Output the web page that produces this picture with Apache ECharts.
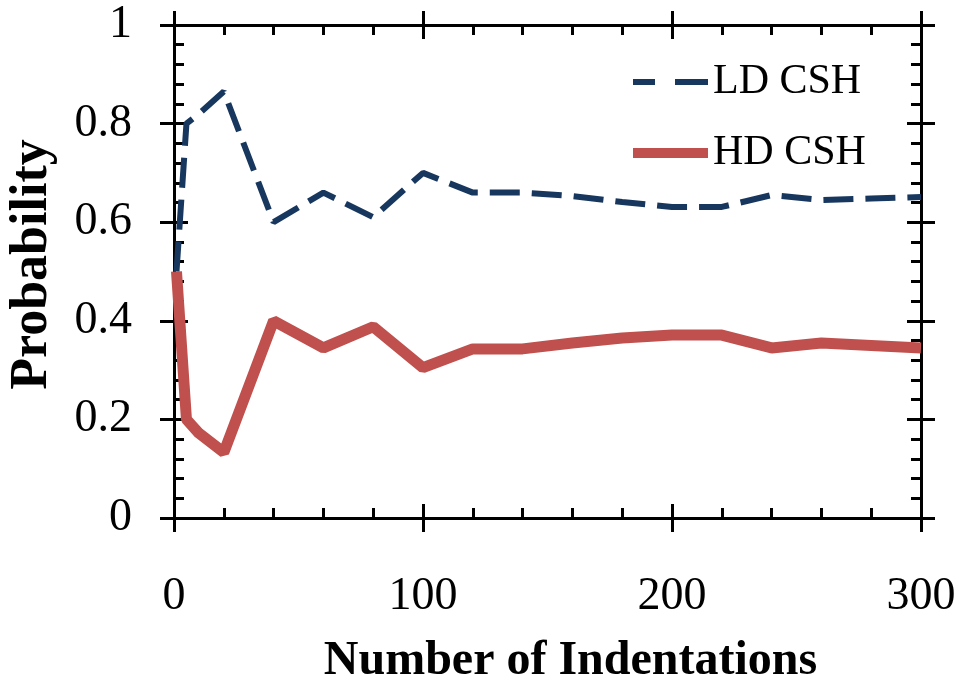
<!DOCTYPE html>
<html><head><meta charset="utf-8">
<script src="https://cdn.jsdelivr.net/npm/echarts@6/dist/echarts.min.js"></script>
<style>html,body{margin:0;padding:0;background:#fff}#c{width:964px;height:684px}</style>
</head><body><div id="c"></div>
<script>
const indentations = [1, 5, 10, 20, 40, 60, 80, 100, 120, 140, 160, 180, 200, 220, 240, 260, 280, 300];
const ldCSH = [0.50, 0.80, 0.82, 0.865, 0.60, 0.66, 0.61, 0.70, 0.66, 0.66, 0.653, 0.641, 0.631, 0.631, 0.655, 0.645, 0.648, 0.651];
const hdCSH = [0.50, 0.20, 0.172, 0.133, 0.40, 0.345, 0.388, 0.305, 0.343, 0.343, 0.355, 0.365, 0.371, 0.371, 0.345, 0.355, 0.35, 0.345];
const seriesNames = ['LD CSH', 'HD CSH'];
const xTitle = 'Number of Indentations';
const yTitle = 'Probability';

const FONT = 'Liberation Serif';
const BLACK = '#000';
const LD_COLOR = '#17375E';
const HD_COLOR = '#C0504D';

function axisBase(min, max, interval, pos, opts) {
  return Object.assign({
    type: 'value', min: min, max: max, interval: interval, position: pos,
    splitLine: { show: false },
    axisLine: { show: true, onZero: false, lineStyle: { color: BLACK, width: 3 } },
    axisTick: { show: true, inside: false, length: 14, lineStyle: { color: BLACK, width: 3 } },
    minorTick: { show: false },
    axisLabel: { show: false }
  }, opts || {});
}
function innerAxis(min, max, interval, pos) {
  return axisBase(min, max, interval, pos, {
    axisTick: { show: true, inside: true, length: 14, lineStyle: { color: BLACK, width: 3 } },
    minorTick: { show: true, splitNumber: 5, length: 10, lineStyle: { color: BLACK, width: 3 } }
  });
}

const chart = echarts.init(document.getElementById('c'), null, { renderer: 'canvas' });
chart.setOption({
  animation: false,
  backgroundColor: '#fff',
  grid: { left: 174, right: 43, top: 25, bottom: 166, containLabel: false, outerBoundsMode: 'none' },
  legend: {
    orient: 'vertical', left: 633, top: 57, padding: 0,
    itemWidth: 75, itemHeight: 14, itemGap: 21, symbolKeepAspect: true,
    textStyle: { fontFamily: FONT, fontSize: 42, color: BLACK, lineHeight: 50 },
    data: [
      { name: seriesNames[0], icon: 'path://M0,0H22V6H0Z M42,0H75V6H42Z', itemStyle: { color: LD_COLOR, borderWidth: 0 } },
      { name: seriesNames[1], icon: 'path://M0,0H75V10H0Z', itemStyle: { color: HD_COLOR, borderWidth: 0 } }
    ]
  },
  xAxis: [
    axisBase(0, 300, 100, 'bottom', {
      axisLabel: { show: true, margin: 56, fontFamily: FONT, fontSize: 46, color: BLACK },
      name: xTitle, nameLocation: 'middle', nameGap: 120,
      nameTextStyle: { fontFamily: FONT, fontSize: 48, fontWeight: 'bold', color: BLACK, padding: [0, 0, 0, 46] }
    }),
    innerAxis(0, 300, 100, 'bottom'),
    axisBase(0, 300, 100, 'top'),
    innerAxis(0, 300, 100, 'top')
  ],
  yAxis: [
    axisBase(0, 1, 0.2, 'left', {
      axisLabel: { show: true, margin: 42, fontFamily: FONT, fontSize: 46, color: BLACK },
      name: yTitle, nameLocation: 'middle', nameGap: 115,
      nameTextStyle: { fontFamily: FONT, fontSize: 52, fontWeight: 'bold', color: BLACK, padding: [0, 0, 0, 14] }
    }),
    innerAxis(0, 1, 0.2, 'left'),
    axisBase(0, 1, 0.2, 'right'),
    innerAxis(0, 1, 0.2, 'right')
  ],
  series: [
    {
      name: seriesNames[0], type: 'line', xAxisIndex: 0, yAxisIndex: 0,
      symbol: 'none', showSymbol: false,
      lineStyle: { color: LD_COLOR, width: 6, type: [30, 12], cap: 'butt' },
      itemStyle: { color: LD_COLOR },
      data: indentations.map((x, i) => [x, ldCSH[i]])
    },
    {
      name: seriesNames[1], type: 'line', xAxisIndex: 0, yAxisIndex: 0,
      symbol: 'none', showSymbol: false,
      lineStyle: { color: HD_COLOR, width: 11 },
      itemStyle: { color: HD_COLOR },
      data: indentations.map((x, i) => [x, hdCSH[i]])
    }
  ]
});
</script></body></html>
